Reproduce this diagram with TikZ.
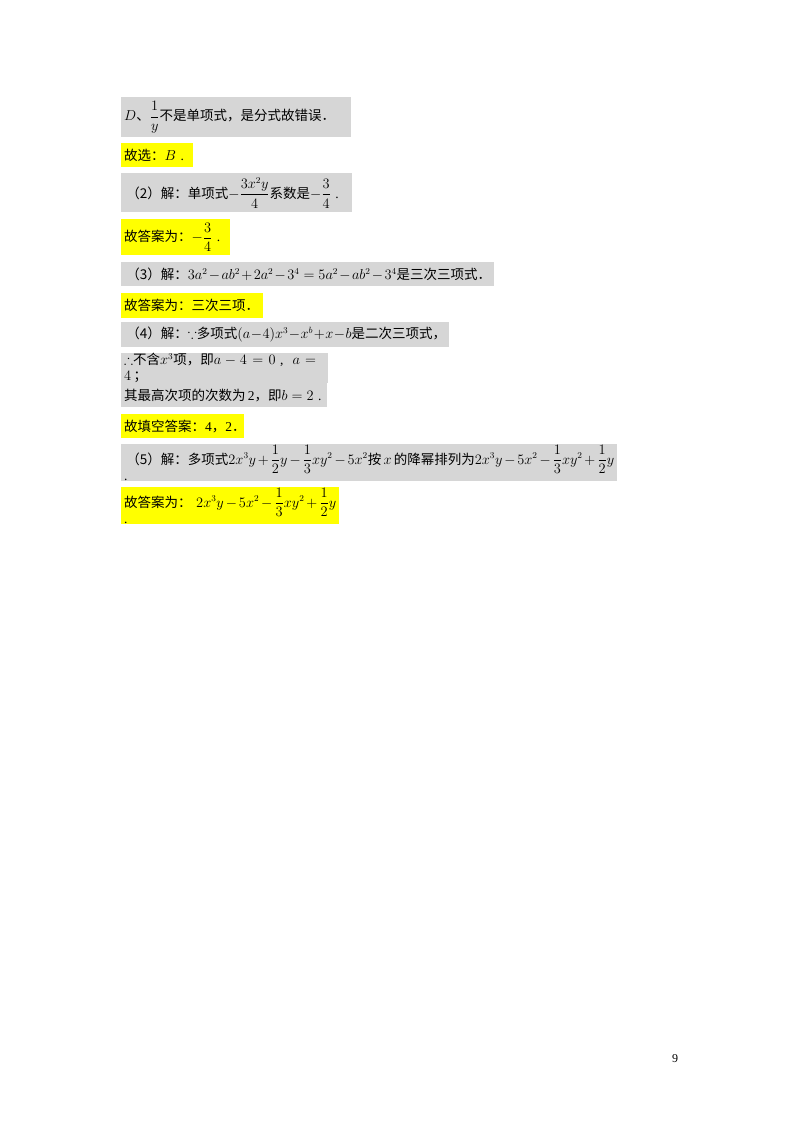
\documentclass[tikz,border=0pt]{standalone}
\usepackage{amsmath,amssymb}
\usepackage{fontspec}
\setmainfont{Liberation Serif}
\newfontfamily\cjk{Noto Sans CJK SC}
\definecolor{gbg}{RGB}{214,214,214}
\definecolor{ybg}{RGB}{255,255,0}
\begin{document}
\begin{tikzpicture}[x=1pt,y=-1pt,
  base/.style={anchor=north west,inner xsep=3pt,inner ysep=0pt,align=left,font=\fontsize{13.5}{16}\selectfont},
  gbox/.style={base,fill=gbg},
  ybox/.style={base,fill=ybg}]
\useasboundingbox (0,0) rectangle (800,1132);
\node[gbox,minimum height=40,text width=224] (n1) at (121,97) {$D${\cjk 、}$\dfrac{1}{y}${\cjk 不是单项式，是分式故错误．}};
\node[ybox,minimum height=24,text width=66] (n2) at (121,143) {{\cjk 故选：}$B$ .};
\node[gbox,minimum height=39,text width=225] (n3) at (121,173) {\,{\cjk （2）解：单项式}$-\dfrac{3x^2y}{4}${\cjk 系数是}$-\dfrac{3}{4}$ .};
\node[ybox,minimum height=36,text width=103] (n4) at (121,219) {{\cjk 故答案为：}$-\dfrac{3}{4}$ .};
\node[gbox,minimum height=24,text width=367] (n5) at (121,262) {\,{\cjk （3）解：}$3a^2-ab^2+2a^2-3^4=5a^2-ab^2-3^4${\cjk 是三次三项式．}};
\node[ybox,minimum height=25,text width=136] (n6) at (121,293) {{\cjk 故答案为：三次三项．}};
\node[gbox,minimum height=25,text width=322] (n7) at (121,322) {\,{\cjk （4）解：}$\because${\cjk 多项式}$(a-4)x^3-x^b+x-b${\cjk 是二次三项式，}};
\node[gbox,minimum height=24,text width=201] (n8) at (121,353) {$\therefore${\cjk 不含}$x^3${\cjk 项，即}$a-4=0$ ,\ \ $a=4$\,{\cjk ；}};
\node[gbox,minimum height=24,text width=200] (n9) at (121,383) {{\cjk 其最高次项的次数为}\,2{\cjk ，即}$b=2$ .};
\node[ybox,minimum height=24,text width=117] (n10) at (121,414) {{\cjk 故填空答案：}4{\cjk ，}2{\cjk ．}};
\node[gbox,minimum height=37,text width=490] (n11) at (121,444) {\,{\cjk （5）解：多项式}$2x^3y+\dfrac12y-\dfrac13xy^2-5x^2${\cjk 按}\,$x$\,{\cjk 的降幂排列为}$2x^3y-5x^2-\dfrac13xy^2+\dfrac12y$ .};
\node[ybox,minimum height=37,text width=212] (n12) at (121,487) {{\cjk 故答案为：}\ $2x^3y-5x^2-\dfrac13xy^2+\dfrac12y$ .};
\node[font=\fontsize{12}{14}\selectfont] (pg) at (675,1059) {9};
\end{tikzpicture}
\end{document}
